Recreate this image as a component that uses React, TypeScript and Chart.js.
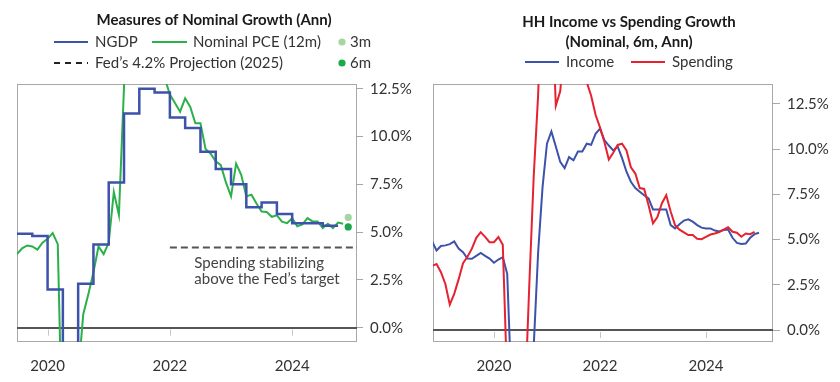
import React, { useEffect, useRef } from 'react';
import { Chart, registerables } from 'chart.js';

Chart.register(...registerables);

// ---------------- DATA ----------------
// Left chart: Measures of Nominal Growth (Ann)
const ngdpQuarters = [
  '2019Q3', '2019Q4', '2020Q1', '2020Q2', '2020Q3', '2020Q4',
  '2021Q1', '2021Q2', '2021Q3', '2021Q4', '2022Q1', '2022Q2',
  '2022Q3', '2022Q4', '2023Q1', '2023Q2', '2023Q3', '2023Q4',
  '2024Q1', '2024Q2', '2024Q3',
];
const ngdpPct = [
  4.92, 4.8, 2.0, -8.0, 2.3, 4.35,
  7.6, 11.2, 12.5, 12.3, 11.0, 10.45,
  9.2, 8.3, 7.5, 6.3, 6.55, 5.95,
  5.47, 5.47, 5.33,
];

const pceStartMonth = '2019-07';
const pce12mPct = [
  3.85, 4.15, 4.3, 4.25, 4.08, 4.45, 4.65, 4.95, 4.37, -7.0,
  -14.0, -9.0, -2.5, 0.7, 1.75, 2.9, 4.25, 3.85, 4.45, 7.1,
  5.9, 12.6, 25.0, 22.0, 16.0, 14.5, 14.0, 14.2, 13.8, 13.05,
  12.2, 11.75, 11.3, 12.0, 11.55, 10.7, 10.7, 9.35, 9.1, 8.7,
  8.5, 7.6, 6.87, 8.58, 8.0, 6.87, 6.96, 6.5, 6.08, 6.05,
  5.8, 5.88, 5.55, 5.47, 5.73, 5.3, 5.4, 5.73, 5.56, 5.56,
  5.21, 5.44, 5.21, 5.5, 5.44,
];
const pceLatestMonth = '2024-12';
const pce3mPct = 5.77;
const pce6mPct = 5.27;
const fedProjectionPct = 4.2;
const fedProjectionSpan = [2022, 2025.2];

// Right chart: HH Income vs Spending Growth (Nominal, 6m, Ann)
const hhStartMonth = '2018-11';
const incomePct = [
  4.9, 4.4, 4.65, 4.68, 4.75, 4.9, 4.5, 4.3, 3.95, 3.94,
  4.1, 4.26, 4.1, 3.95, 3.72, 3.9, 4.03, 3.11, -3.5, -12.0,
  -10.0, -8.0, -4.0, -0.9, 4.3, 7.9, 10.3, 10.98, 10.15, 9.3,
  8.95, 9.56, 9.38, 9.87, 9.87, 10.3, 10.24, 10.85, 11.13, 10.5,
  10.2, 9.93, 10.15, 9.5, 8.75, 8.2, 7.85, 7.65, 7.45, 7.28,
  6.67, 6.67, 6.67, 6.67, 5.8, 5.62, 5.85, 6.05, 6.12, 5.99,
  5.8, 5.66, 5.62, 5.62, 5.5, 5.45, 5.53, 5.56, 5.1, 4.82,
  4.76, 4.78, 5.1, 5.3, 5.38,
];
const spendingPct = [
  3.55, 3.65, 3.2, 2.55, 1.4, 2.0, 2.8, 3.7, 4.05, 4.5,
  5.1, 5.41, 5.15, 4.86, 4.86, 5.14, 4.71, -3.0, -30.0, -25.0,
  -12.0, -4.0, 2.5, 8.5, 13.0, 20.0, 24.0, 19.0, 12.4, 13.2,
  16.0, 18.0, 17.0, 16.0, 15.0, 13.7, 12.95, 11.9, 11.2, 10.4,
  9.43, 9.8, 10.23, 10.3, 9.93, 9.0, 8.65, 7.85, 7.8, 6.9,
  5.9, 6.25, 7.0, 7.45, 6.55, 5.8, 5.55, 5.4, 5.25, 5.25,
  5.05, 5.02, 5.15, 5.28, 5.34, 5.42, 5.55, 5.68, 5.43, 5.38,
  5.16, 5.34, 5.3, 5.43,
];

const yearTicks = [2020, 2022, 2024];
const pctTicks = [0, 2.5, 5, 7.5, 10, 12.5];

// ---------------- HELPERS ----------------
const FONT = 'Lato, "Open Sans", sans-serif';
const FS = 15;
const BLUE = '#3d52aa';
const GREEN = '#2bb04a';
const RED = '#e62231';
const LIGHT_GREEN = '#a3d6a3';
const DARK_GREEN = '#1ca84a';
const TEXT = '#333333';

function monthToYear(label: string): number {
  const [y, m] = label.split('-').map(Number);
  return y + (m - 1) / 12;
}
function quarterToYear(label: string): number {
  const y = Number(label.slice(0, 4));
  const q = Number(label.slice(5));
  return y + (q - 1) / 4;
}
function monthlyPoints(start: string, values: number[]) {
  const s = monthToYear(start);
  return values.map((v, i) => ({ x: s + i / 12, y: v }));
}
function quarterlyStepPoints(quarters: string[], values: number[]) {
  const pts = quarters.map((q, i) => ({ x: quarterToYear(q), y: values[i] }));
  const last = pts[pts.length - 1];
  pts.push({ x: last.x + 0.25, y: last.y });
  return pts;
}

function drawLegendLine(ctx: CanvasRenderingContext2D, x1: number, x2: number, y: number, color: string, dash?: number[]) {
  ctx.save();
  ctx.strokeStyle = color;
  ctx.lineWidth = 2;
  ctx.setLineDash(dash || []);
  ctx.beginPath();
  ctx.moveTo(x1, y);
  ctx.lineTo(x2, y);
  ctx.stroke();
  ctx.restore();
}
function drawDot(ctx: CanvasRenderingContext2D, x: number, y: number, color: string) {
  ctx.save();
  ctx.fillStyle = color;
  ctx.beginPath();
  ctx.arc(x, y, 3.6, 0, Math.PI * 2);
  ctx.fill();
  ctx.restore();
}
function drawText(ctx: CanvasRenderingContext2D, text: string, x: number, y: number, align: CanvasTextAlign, font: string, color: string) {
  ctx.save();
  ctx.font = font;
  ctx.fillStyle = color;
  ctx.textAlign = align;
  ctx.textBaseline = 'middle';
  ctx.fillText(text, x, y);
  ctx.restore();
}

// frame, zero line, inner x ticks
const framePlugin = {
  id: 'frameAndZero',
  beforeDatasetsDraw(chart: any) {
    const { ctx, chartArea } = chart;
    const xs = chart.scales.x;
    const ys = chart.scales.y;
    ctx.save();
    ctx.strokeStyle = '#a8a8a8';
    ctx.lineWidth = 1;
    ctx.strokeRect(Math.round(chartArea.left) + 0.5, Math.round(chartArea.top) + 0.5,
      Math.round(chartArea.right - chartArea.left) - 1, Math.round(chartArea.bottom - chartArea.top) - 1);
    const y0 = ys.getPixelForValue(0);
    ctx.strokeStyle = '#c4c4c4';
    ctx.lineWidth = 1;
    yearTicks.forEach((yr) => {
      const x = Math.round(xs.getPixelForValue(yr)) + 0.5;
      ctx.beginPath();
      ctx.moveTo(x, y0 + 2);
      ctx.lineTo(x, y0 + 8);
      ctx.stroke();
    });
    ctx.strokeStyle = '#555555';
    ctx.lineWidth = 2;
    ctx.beginPath();
    ctx.moveTo(chartArea.left, Math.round(y0));
    ctx.lineTo(chartArea.right, Math.round(y0));
    ctx.stroke();
    ctx.restore();
  },
};

const leftHeaderPlugin = {
  id: 'leftHeader',
  afterDraw(chart: any) {
    const ctx = chart.ctx as CanvasRenderingContext2D;
    const xs = chart.scales.x;
    const ys = chart.scales.y;
    drawText(ctx, 'Measures of Nominal Growth (Ann)', 214, 20, 'center', `bold ${FS}px ${FONT}`, '#1a1a1a');
    const f = `${FS}px ${FONT}`;
    drawLegendLine(ctx, 54, 88, 42, BLUE);
    drawText(ctx, 'NGDP', 95, 42, 'left', f, TEXT);
    drawLegendLine(ctx, 152, 187, 42, GREEN);
    drawText(ctx, 'Nominal PCE (12m)', 193, 42, 'left', f, TEXT);
    drawDot(ctx, 342, 42, LIGHT_GREEN);
    drawText(ctx, '3m', 350, 42, 'left', f, TEXT);
    drawLegendLine(ctx, 54, 88, 63, '#222222', [6, 5]);
    drawText(ctx, 'Fed\u2019s 4.2% Projection (2025)', 95, 63, 'left', f, TEXT);
    drawDot(ctx, 342, 63, DARK_GREEN);
    drawText(ctx, '6m', 350, 63, 'left', f, TEXT);
    // annotation
    const ax = xs.getPixelForValue(2022.4);
    const ay = ys.getPixelForValue(3.4);
    drawText(ctx, 'Spending stabilizing', ax, ay, 'left', f, '#444444');
    drawText(ctx, 'above the Fed\u2019s target', ax, ay + 16, 'left', f, '#444444');
  },
};

const rightHeaderPlugin = {
  id: 'rightHeader',
  afterDraw(chart: any) {
    const ctx = chart.ctx as CanvasRenderingContext2D;
    drawText(ctx, 'HH Income vs Spending Growth', 209, 22, 'center', `bold ${FS}px ${FONT}`, '#1a1a1a');
    drawText(ctx, '(Nominal, 6m, Ann)', 209, 42, 'center', `bold ${FS}px ${FONT}`, '#1a1a1a');
    const f = `${FS}px ${FONT}`;
    drawLegendLine(ctx, 105, 139, 62, BLUE);
    drawText(ctx, 'Income', 146, 62, 'left', f, TEXT);
    drawLegendLine(ctx, 211, 245, 62, RED);
    drawText(ctx, 'Spending', 252, 62, 'left', f, TEXT);
  },
};

function makeScales(xMin: number, xMax: number, yMin: number, yMax: number, yWidth: number, tickLen: number, yPad: number) {
  return {
    x: {
      type: 'linear',
      position: 'bottom',
      min: xMin,
      max: xMax,
      afterBuildTicks: (s: any) => { s.ticks = yearTicks.map((v) => ({ value: v })); },
      afterFit: (s: any) => { s.height = 40; },
      grid: { display: false, drawTicks: false },
      border: { display: false },
      ticks: {
        callback: (v: any) => String(v),
        font: { family: FONT, size: FS },
        color: TEXT,
        padding: 15,
        maxRotation: 0,
        autoSkip: false,
      },
    },
    y: {
      type: 'linear',
      position: 'right',
      min: yMin,
      max: yMax,
      afterBuildTicks: (s: any) => { s.ticks = pctTicks.map((v) => ({ value: v })); },
      afterFit: (s: any) => { s.width = yWidth; },
      grid: { drawOnChartArea: false, drawTicks: true, tickLength: tickLen, color: '#a8a8a8' },
      border: { display: false },
      ticks: {
        callback: (v: any) => Number(v).toFixed(1) + '%',
        font: { family: FONT, size: FS },
        color: TEXT,
        padding: yPad,
      },
    },
  };
}

const lineBase = { pointRadius: 0, tension: 0, fill: false, borderWidth: 2 };

function leftConfig(): any {
  const dec = monthToYear(pceLatestMonth);
  return {
    type: 'line',
    data: {
      datasets: [
        { ...lineBase, label: 'NGDP', data: quarterlyStepPoints(ngdpQuarters, ngdpPct), borderColor: BLUE, stepped: 'before', borderWidth: 2.5 },
        { ...lineBase, label: 'Nominal PCE (12m)', data: monthlyPoints(pceStartMonth, pce12mPct), borderColor: GREEN },
        { ...lineBase, label: 'Fed projection', data: fedProjectionSpan.map((x) => ({ x, y: fedProjectionPct })), borderColor: '#555555', borderDash: [7, 4] },
        { label: '3m', data: [{ x: dec, y: pce3mPct }], showLine: false, pointRadius: 3.6, pointBorderWidth: 0, pointBackgroundColor: LIGHT_GREEN, borderColor: LIGHT_GREEN },
        { label: '6m', data: [{ x: dec, y: pce6mPct }], showLine: false, pointRadius: 3.6, pointBorderWidth: 0, pointBackgroundColor: DARK_GREEN, borderColor: DARK_GREEN },
      ],
    },
    options: {
      responsive: false,
      animation: false,
      events: [],
      layout: { padding: { left: 17, top: 84, right: 0, bottom: 0 } },
      plugins: { legend: { display: false }, tooltip: { enabled: false }, title: { display: false } },
      scales: makeScales(2019.5, 2025.06, -0.75, 12.75, 63, 6, 7),
    },
    plugins: [framePlugin, leftHeaderPlugin],
  };
}

function rightConfig(): any {
  return {
    type: 'line',
    data: {
      datasets: [
        { ...lineBase, label: 'Spending', data: monthlyPoints(hhStartMonth, spendingPct), borderColor: RED },
        { ...lineBase, label: 'Income', data: monthlyPoints(hhStartMonth, incomePct), borderColor: BLUE },
      ],
    },
    options: {
      responsive: false,
      animation: false,
      events: [],
      layout: { padding: { left: 13, top: 84, right: 0, bottom: 0 } },
      plugins: { legend: { display: false }, tooltip: { enabled: false }, title: { display: false } },
      scales: makeScales(2018.85, 2025.264, -0.66, 13.6, 67, 7, 7),
    },
    plugins: [framePlugin, rightHeaderPlugin],
  };
}

export default function App() {
  const leftRef = useRef<HTMLCanvasElement>(null);
  const rightRef = useRef<HTMLCanvasElement>(null);
  useEffect(() => {
    const c1 = new Chart(leftRef.current as HTMLCanvasElement, leftConfig());
    const c2 = new Chart(rightRef.current as HTMLCanvasElement, rightConfig());
    return () => {
      c1.destroy();
      c2.destroy();
    };
  }, []);
  return (
    <div style={{ position: 'fixed', left: 0, top: 0, width: 840, height: 382, background: '#ffffff' }}>
      <canvas ref={leftRef} width={420} height={382} style={{ position: 'absolute', left: 0, top: 0, width: 420, height: 382 }} />
      <canvas ref={rightRef} width={420} height={382} style={{ position: 'absolute', left: 420, top: 0, width: 420, height: 382 }} />
    </div>
  );
}
